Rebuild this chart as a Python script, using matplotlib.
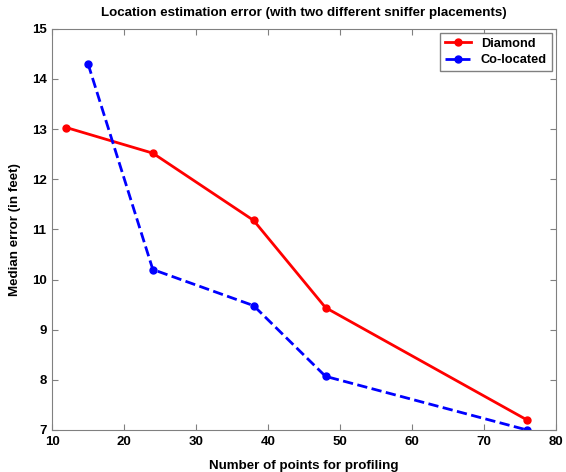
import matplotlib
matplotlib.use("Agg")
import matplotlib.pyplot as plt

plt.rcParams['font.family'] = ['Liberation Sans', 'DejaVu Sans']

x_diamond = [12, 24, 38, 48, 76]
y_diamond = [13.03, 12.52, 11.18, 9.44, 7.2]
x_coloc = [15, 24, 38, 48, 76]
y_coloc = [14.3, 10.2, 9.48, 8.07, 7.0]
xticks = [10, 20, 30, 40, 50, 60, 70, 80]
yticks = [7, 8, 9, 10, 11, 12, 13, 14, 15]

fig = plt.figure(figsize=(5.66, 4.72), dpi=100)
ax = fig.add_axes([0.092, 0.089, 0.890, 0.850])
ax.plot(x_diamond, y_diamond, '-', color='red', lw=2, marker='o', ms=5, label='Diamond')
ax.plot(x_coloc, y_coloc, '--', color='blue', lw=2, marker='o', ms=5, label='Co-located')
ax.set_xlim(10, 80)
ax.set_ylim(7, 15)
ax.set_xticks(xticks)
ax.set_yticks(yticks)
ax.tick_params(direction='in', top=True, right=True, length=4, color='#808080', labelsize=9.5)
ax.tick_params(axis='x', pad=4)
ax.tick_params(axis='y', pad=4)
for lab in ax.get_xticklabels() + ax.get_yticklabels():
    lab.set_fontweight('bold')
for s in ax.spines.values():
    s.set_color('#808080')
ax.set_xlabel('Number of points for profiling', fontsize=9.6, fontweight='bold', labelpad=9)
ax.set_ylabel('Median error (in feet)', fontsize=9.6, fontweight='bold', labelpad=8)
ax.set_title('Location estimation error (with two different sniffer placements)', fontsize=9.6, fontweight='bold', pad=9)
leg = ax.legend(loc='upper right', prop={'weight': 'bold', 'size': 9.2}, fancybox=False,
                edgecolor='#808080', framealpha=1, handlelength=2.0, borderaxespad=0.3,
                labelspacing=0.35)
fig.savefig('out.png', dpi=100)
